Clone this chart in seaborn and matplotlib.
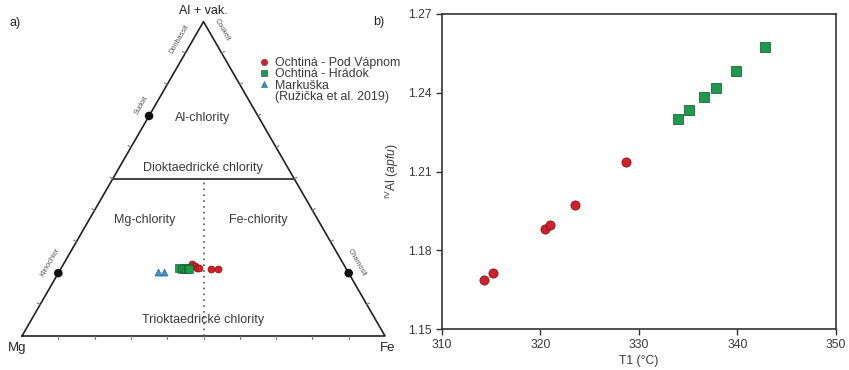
import numpy as np
import pandas as pd
import matplotlib
matplotlib.use("Agg")
import matplotlib.pyplot as plt
import seaborn as sns
from matplotlib.lines import Line2D

# ---------------- data ----------------
# panel a: ternary fractions (Al + vak., Fe); Mg = 1 - Al - Fe
pv_al = [0.229, 0.223, 0.217, 0.215, 0.212, 0.212]
pv_fe = [0.354, 0.365, 0.374, 0.380, 0.415, 0.434]
hr_al = [0.217, 0.213, 0.215, 0.213, 0.215, 0.213]
hr_fe = [0.325, 0.333, 0.339, 0.344, 0.350, 0.353]
mk_al = [0.202, 0.202]
mk_fe = [0.275, 0.289]

# panel b
pv_t1 = [314.3, 315.2, 320.5, 321.0, 323.5, 328.7]
pv_aliv = [1.1687, 1.1712, 1.1880, 1.1895, 1.1974, 1.2135]
hr_t1 = [334.0, 335.1, 336.6, 337.8, 339.9, 342.8]
hr_aliv = [1.2301, 1.2333, 1.2384, 1.2418, 1.2484, 1.2573]

series = ["Ochtiná - Pod Vápnom", "Ochtiná - Hrádok", "Markuška"]
ref_note = "(Ružička et al. 2019)"
end_members_left = [("Klinochlor", 0.2), ("Sudoit", 0.7)]
end_members_right = [("Chamosit", 0.2)]
side_labels_left = [("Donbassit", 0.91)]
side_labels_right = [("Cookeit", 0.94)]
region_labels = ["Al-chlority", "Dioktaedrické chlority", "Mg-chlority",
                 "Fe-chlority", "Trioktaedrické chlority"]
yticks = [1.15, 1.18, 1.21, 1.24, 1.27]
xticks = [310, 320, 330, 340, 350]

colors = {series[0]: "#d1202a", series[1]: "#1e9a4c", series[2]: "#3b8fc4"}
edges = {series[0]: "#7a0d12", series[1]: "#0d4f25", series[2]: "#1f5f8a"}
markers = {series[0]: "o", series[1]: "s", series[2]: "^"}

sns.set_theme(style="ticks")
plt.rcParams["font.family"] = ["Liberation Sans", "DejaVu Sans"]
plt.rcParams["mathtext.fontset"] = "custom"
plt.rcParams["mathtext.rm"] = "Liberation Sans"
plt.rcParams["mathtext.it"] = "Liberation Sans:italic"

fig = plt.figure(figsize=(8.49, 3.70), dpi=100)
H = np.sqrt(3) / 2
TXT = "#3a3a3a"

# ---------------- panel a (ternary) ----------------
axT = fig.add_axes([0, 0, 420 / 849, 1])
axT.set_xlim(-22 / 363, 398 / 363)
axT.set_ylim(-34 / 363, 336 / 363)
axT.axis("off")

axT.plot([0, 1, 0.5, 0], [0, 0, H, 0], color="#222222", lw=1.2, zorder=2)
# Dioktaedrické / Trioktaedrické divider at Al = 0.5
axT.plot([0.25, 0.75], [0.5 * H, 0.5 * H], color="#222222", lw=1.2, zorder=2)
# Mg / Fe divider
axT.plot([0.5, 0.5], [0, 0.5 * H], color="#555555", lw=1.2, ls=(0, (1, 2.5)), zorder=2)

tl = 0.009
for k in range(1, 10):
    t = k / 10
    axT.plot([t, t], [0, -tl], color="#777777", lw=0.8)
    px, py = 0.5 * t, H * t
    axT.plot([px, px - tl * H], [py, py + tl * 0.5], color="#777777", lw=0.8)
    px, py = 1 - 0.5 * t, H * t
    axT.plot([px, px + tl * H], [py, py + tl * 0.5], color="#777777", lw=0.8)

def left_pt(t):
    return 0.5 * t, H * t

def right_pt(t):
    return 1 - 0.5 * t, H * t

em = pd.DataFrame(
    [(n, *left_pt(t)) for n, t in end_members_left] +
    [(n, *right_pt(t)) for n, t in end_members_right],
    columns=["name", "x", "y"])
sns.scatterplot(data=em, x="x", y="y", color="#111111", s=38, edgecolor="none",
                ax=axT, legend=False, zorder=4)

off = 0.034
for name, t in end_members_left + side_labels_left:
    x, y = left_pt(t + 0.015)
    axT.text(x - off * H, y + off * 0.5, name, rotation=60, ha="center", va="center",
             fontsize=5.3, color="#555555", rotation_mode="anchor")
for name, t in end_members_right + side_labels_right:
    x, y = right_pt(t + 0.015)
    axT.text(x + off * H, y + off * 0.5, name, rotation=-60, ha="center", va="center",
             fontsize=5.3, color="#555555", rotation_mode="anchor")

rl_pos = [(0.4986, 0.6006), (0.4986, 0.4628), (0.3388, 0.3196), (0.650, 0.3196), (0.4986, 0.0441)]
for lab, (x, y) in zip(region_labels, rl_pos):
    axT.text(x, y, lab, ha="center", va="center", fontsize=9, color=TXT)

axT.text(0.4986, 0.895, "Al + vak.", ha="center", va="center", fontsize=9, color="#222222")
axT.text(-0.014, -0.034, "Mg", ha="center", va="center", fontsize=9.5, color="#222222")
axT.text(1.006, -0.034, "Fe", ha="center", va="center", fontsize=9.5, color="#222222")

rows = []
for name, al, fe in [(series[0], pv_al, pv_fe), (series[1], hr_al, hr_fe), (series[2], mk_al, mk_fe)]:
    for a, f in zip(al, fe):
        rows.append((name, f + a / 2, a * H))
tern = pd.DataFrame(rows, columns=["series", "x", "y"])
for name in series:
    sub = tern[tern.series == name]
    sns.scatterplot(data=sub, x="x", y="y", color=colors[name], marker=markers[name],
                    s=26, edgecolor=edges[name], linewidth=0.4, ax=axT, legend=False, zorder=5)

handles = [Line2D([], [], ls="none", marker=markers[n], markersize=4.5,
                  markerfacecolor=colors[n], markeredgecolor=edges[n], markeredgewidth=0.4)
           for n in series]
handles.append(Line2D([], [], ls="none"))
leg = axT.legend(handles, series + [ref_note], loc="upper left",
                 bbox_to_anchor=(260 / 849, 1 - 57 / 370), bbox_transform=fig.transFigure,
                 frameon=False, fontsize=8.9, handlelength=0.7, handletextpad=0.55,
                 labelspacing=-0.05, borderpad=0, borderaxespad=0)
for t in leg.get_texts():
    t.set_color(TXT)

fig.text(15 / 849, 1 - 23 / 370, "a)", ha="center", va="center", fontsize=9, color="#222222")
fig.text(379 / 849, 1 - 22 / 370, "b)", ha="center", va="center", fontsize=9, color="#222222")

# ---------------- panel b ----------------
axB = fig.add_axes([441.7 / 849, 1 - 329 / 370, (836 - 441.7) / 849, (329 - 14) / 370])
dfb = pd.DataFrame({
    "T1": pv_t1 + hr_t1,
    "AlIV": pv_aliv + hr_aliv,
    "series": [series[0]] * len(pv_t1) + [series[1]] * len(hr_t1),
})
for name in series[:2]:
    sub = dfb[dfb.series == name]
    sns.scatterplot(data=sub, x="T1", y="AlIV", color=colors[name], marker=markers[name],
                    s=44, edgecolor=edges[name], linewidth=0.5, ax=axB, legend=False, zorder=5)
axB.set_xlim(310, 350)
axB.set_ylim(1.15, 1.27)
axB.set_xticks(xticks)
axB.set_yticks(yticks)
axB.set_yticklabels([f"{v:.2f}" for v in yticks])
for s in axB.spines.values():
    s.set_visible(True)
    s.set_color("#333333")
    s.set_linewidth(1.2)
axB.tick_params(direction="out", length=4, width=1.0, color="#333333",
                labelsize=8.7, labelcolor=TXT, top=False, right=False, pad=3)
axB.set_xlabel("T1 (°C)", fontsize=8.7, color=TXT, labelpad=3)
axB.set_ylabel(r"$^{\mathrm{IV}}$Al ($\mathit{apfu}$)", fontsize=8.7, color=TXT, labelpad=5)
axB.set_facecolor("white")

fig.savefig("out.png", dpi=100, facecolor="white")
